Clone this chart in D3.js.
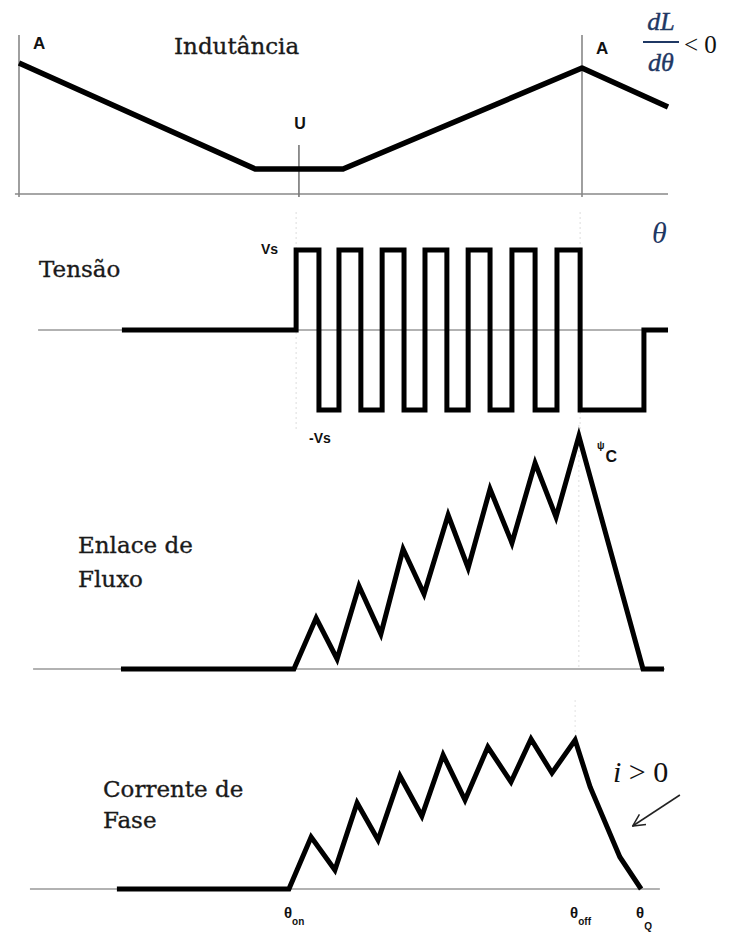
<!DOCTYPE html>
<html>
<head>
<meta charset="utf-8">
<script src="https://cdn.jsdelivr.net/npm/d3@7/dist/d3.min.js"></script>
<style>
  html, body { margin: 0; padding: 0; background: #fff; }
  svg { display: block; }
  .serif { font-family: "DejaVu Serif", serif; fill: #1a1a1a; stroke: #1a1a1a; stroke-width: 0.35; }
  .mark { font-family: "Liberation Sans", Arial, sans-serif; font-weight: bold; fill: #111; }
  .math { font-family: "Liberation Serif", "DejaVu Serif", serif; }
</style>
</head>
<body>
<script>
// Rotor angle (electrical degrees): 0 and 180 are the aligned positions "A".
const thetaAligned = [0, 180];
const thetaUnaligned = 89.5;

// Phase inductance profile
const indAngle = [0, 75.5, 103.6, 180, 207.5];
const indValue = [131, 25, 25, 126, 87];

// Chopped phase voltage (+Vs / 0 / -Vs), each level held until the next angle
const voltAngle = [32.9, 88.6, 95.9, 102.3, 109.3, 116.1, 123.1, 129.8, 136.8, 143.6, 150.6, 157.6, 165.0, 172.0, 179.4, 199.8, 207.5];
const voltLevel = [0, 1, -1, 1, -1, 1, -1, 1, -1, 1, -1, 1, -1, 1, -1, 0, 0];

// Flux linkage
const fluxAngle = [32.6, 87.9, 95.0, 101.7, 108.7, 115.7, 122.8, 129.5, 137.2, 143.6, 150.6, 157.6, 165.0, 171.7, 179.0, 199.5, 206.2];
const fluxValue = [0, 0, 51, 10, 83, 35, 120, 75, 154, 101, 180, 126, 206, 152, 233, 0, 0];

// Phase current
const currAngle = [31.3, 86.3, 93.4, 101.0, 108.1, 114.8, 121.8, 128.8, 135.6, 142.6, 149.9, 157.3, 163.7, 170.4, 177.8, 182.6, 192.1, 198.9];
const currValue = [0, 0, 52, 19, 86, 49, 113, 73, 134, 89, 142, 107, 150, 116, 149, 102, 32, 0];

// Angle markers on the bottom axis
const tickAngle = [86.3, 177.8, 198.9];
const tickMain = ["θ", "θ", "θ"];
const tickSub = ["on", "off", "Q"];

const W = 731, H = 936;
const svg = d3.select("body").append("svg").attr("width", W).attr("height", H);
svg.append("rect").attr("width", W).attr("height", H).attr("fill", "#fff");

const x = d3.scaleLinear().domain([0, 180]).range([19, 582]);
const yL = d3.scaleLinear().domain([0, 131]).range([194, 63]);
const yV = d3.scaleLinear().domain([-1, 1]).range([410, 250]);
const yF = d3.scaleLinear().domain([0, 233]).range([669, 436]);
const yI = d3.scaleLinear().domain([0, 150]).range([889, 739]);

const zip = (a, b) => a.map((v, i) => [v, b[i]]);

function thin(x1, y1, x2, y2, color, w, dash) {
  svg.append("line").attr("x1", x1).attr("y1", y1).attr("x2", x2).attr("y2", y2)
    .attr("stroke", color).attr("stroke-width", w)
    .attr("stroke-dasharray", dash || null);
}

function trace(pts, yScale, curve, join, width) {
  const gen = d3.line().x(d => x(d[0])).y(d => yScale(d[1])).curve(curve || d3.curveLinear);
  svg.append("path").attr("d", gen(pts)).attr("fill", "none")
    .attr("stroke", "#000").attr("stroke-width", width || 5)
    .attr("stroke-linejoin", join || "miter").attr("stroke-miterlimit", 10);
}

// ---- Inductance panel ----
thin(x(-1.3), yL(0), x(207.5), yL(0), "#888", 1.6);
thetaAligned.forEach(t => thin(x(t), yL(159), x(t), yL(-3), "#888", 1.6));
thin(x(thetaUnaligned), yL(49), x(thetaUnaligned), yL(-3), "#777", 1.6);
trace(zip(indAngle, indValue), yL, d3.curveLinear, "round", 5.5);

svg.append("text").attr("class", "mark").attr("x", x(0) + 14).attr("y", 49).attr("font-size", 17).text("A");
svg.append("text").attr("class", "mark").attr("x", x(180) + 14).attr("y", 54).attr("font-size", 17).text("A");
svg.append("text").attr("class", "mark").attr("x", x(thetaUnaligned) + 1).attr("y", 129)
  .attr("text-anchor", "middle").attr("font-size", 16).text("U");
svg.append("text").attr("class", "serif").attr("x", 174).attr("y", 54).attr("font-size", 23).text("Indutância");

// dL/dθ < 0
const navy = "#1f3864";
const frac = svg.append("g").attr("class", "math").attr("fill", navy).attr("stroke", navy).attr("stroke-width", 0.4);
frac.append("text").attr("x", 661).attr("y", 30).attr("text-anchor", "middle")
  .attr("font-size", 26).attr("font-style", "italic").text("dL");
frac.append("line").attr("x1", 643).attr("x2", 679).attr("y1", 42).attr("y2", 42)
  .attr("stroke", navy).attr("stroke-width", 1.8);
frac.append("text").attr("x", 661).attr("y", 71).attr("text-anchor", "middle")
  .attr("font-size", 26).attr("font-style", "italic").text("dθ");
svg.append("text").attr("class", "math").attr("x", 684).attr("y", 53)
  .attr("font-size", 25).attr("fill", "#111").text("< 0");

// ---- Voltage panel ----
thin(x(88.6), 212, x(88.6), 432, "#ddd", 1, "2,3");
thin(x(179.4), 212, x(179.4), 440, "#ddd", 1, "2,3");
thin(x(6.1), yV(0), x(207.5), yV(0), "#999", 1.6);
trace(zip(voltAngle, voltLevel), yV, d3.curveStepAfter, "miter");

svg.append("text").attr("class", "math").attr("x", 652).attr("y", 243)
  .attr("font-size", 30).attr("font-style", "italic").attr("fill", navy).text("θ");
svg.append("text").attr("class", "serif").attr("x", 39).attr("y", 277).attr("font-size", 23).text("Tensão");
svg.append("text").attr("class", "mark").attr("x", 261).attr("y", 254).attr("font-size", 14).text("Vs");
svg.append("text").attr("class", "mark").attr("x", 309).attr("y", 443).attr("font-size", 14).text("-Vs");

// ---- Flux linkage panel ----
thin(x(179.0), 425, x(179.0), 668, "#ddd", 1, "2,3");
thin(x(4.5), yF(0), x(206.5), yF(0), "#999", 1.6);
trace(zip(fluxAngle, fluxValue), yF, d3.curveLinear, "miter");

const psi = svg.append("text").attr("class", "mark").attr("x", 597).attr("y", 462);
psi.append("tspan").attr("font-size", 10).attr("dy", -13).text("ψ");
psi.append("tspan").attr("font-size", 16).attr("dy", 13).attr("dx", 1).text("C");
svg.append("text").attr("class", "serif").attr("x", 78).attr("y", 553).attr("font-size", 23).text("Enlace de");
svg.append("text").attr("class", "serif").attr("x", 78).attr("y", 587).attr("font-size", 23).text("Fluxo");

// ---- Phase current panel ----
thin(x(177.8), 700, x(177.8), 740, "#e2e2e2", 1, "2,3");
thin(x(3.5), yI(0), x(204.9), yI(0), "#999", 1.6);
trace(zip(currAngle, currValue), yI, d3.curveLinear, "miter");

svg.append("text").attr("class", "serif").attr("x", 103).attr("y", 797).attr("font-size", 23).text("Corrente de");
svg.append("text").attr("class", "serif").attr("x", 103).attr("y", 828).attr("font-size", 23).text("Fase");

const ineq = svg.append("text").attr("class", "math").attr("x", 613).attr("y", 782)
  .attr("font-size", 30).attr("fill", "#111");
ineq.append("tspan").attr("font-style", "italic").text("i");
ineq.append("tspan").text(" > 0");

// arrow pointing at the demagnetising current
const defs = svg.append("defs");
defs.append("marker").attr("id", "arrowHead").attr("viewBox", "0 0 14 14")
  .attr("refX", 13).attr("refY", 7).attr("markerWidth", 14).attr("markerHeight", 14)
  .attr("orient", "auto").attr("markerUnits", "userSpaceOnUse")
  .append("path").attr("d", "M1,1 L13,7 L1,13").attr("fill", "none")
  .attr("stroke", "#222").attr("stroke-width", 1.5);
svg.append("line")
  .attr("x1", x(211.3)).attr("y1", yI(94)).attr("x2", x(196.2)).attr("y2", yI(63))
  .attr("stroke", "#222").attr("stroke-width", 1.5).attr("marker-end", "url(#arrowHead)");

// angle markers
tickAngle.forEach((t, i) => {
  const g = svg.append("text").attr("class", "mark").attr("x", x(t) - 5).attr("y", 918).attr("font-size", 15);
  g.append("tspan").text(tickMain[i]);
  g.append("tspan").attr("font-size", 10).attr("dy", i === 2 ? 12 : 7).text(tickSub[i]);
});
</script>
</body>
</html>
